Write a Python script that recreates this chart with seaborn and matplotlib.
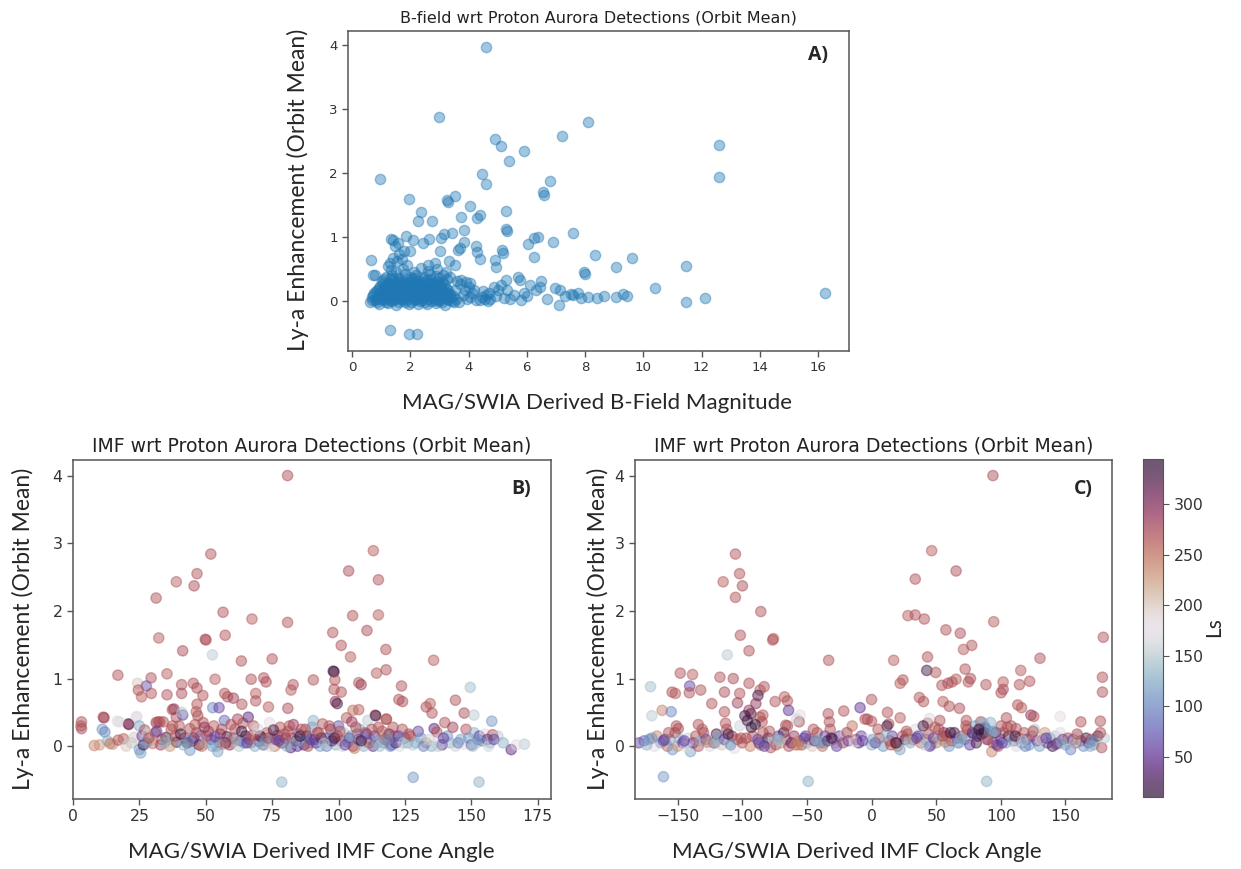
import numpy as np
import pandas as pd
import matplotlib
matplotlib.use("Agg")
import matplotlib.pyplot as plt
import seaborn as sns
from matplotlib.colors import Normalize
from matplotlib.cm import ScalarMappable

# ---------------- DATA ----------------
# Panel A: B-field magnitude vs Ly-a enhancement
a_out_x = [4.6, 3.0, 8.1, 7.2, 4.9, 5.1, 12.6, 5.9, 5.4, 12.6, 0.95, 4.45, 4.6, 6.8, 6.55, 6.6, 1.95, 3.25,
           3.3, 3.55, 4.05, 2.35, 5.3, 2.25, 2.75, 3.75, 4.3, 4.4, 5.3, 5.33, 3.85, 7.6, 6.25, 6.38, 6.05, 6.9,
           1.35, 1.85, 2.1, 2.65, 3.05, 3.15, 3.42, 3.85, 4.25, 3.72, 3.62, 5.15, 5.18, 4.3, 8.35, 6.25, 9.6,
           9.05, 11.45, 4.4, 4.95, 4.9, 7.95, 7.98, 10.4, 12.1, 11.45, 16.25, 1.3, 1.97, 2.22, 0.65]
a_out_y = [3.97, 2.87, 2.80, 2.58, 2.53, 2.43, 2.44, 2.35, 2.19, 1.94, 1.91, 1.98, 1.83, 1.87, 1.70, 1.66, 1.59, 1.58,
           1.55, 1.64, 1.48, 1.39, 1.41, 1.25, 1.25, 1.31, 1.30, 1.35, 1.12, 1.10, 1.11, 1.06, 0.99, 1.00, 0.89, 0.92,
           0.97, 1.01, 0.95, 0.97, 0.98, 1.05, 1.07, 0.93, 0.86, 0.83, 0.80, 0.80, 0.75, 0.77, 0.72, 0.69, 0.68,
           0.54, 0.55, 0.65, 0.54, 0.64, 0.46, 0.43, 0.21, 0.05, -0.01, 0.12, -0.45, -0.52, -0.52, 0.64]

a_band_x = [8.65, 9.05, 9.3, 9.45, 8.1, 7.75, 7.5, 7.1, 7.15, 6.95, 6.7, 6.45, 6.5, 6.1, 5.8, 5.9, 5.78, 5.7, 5.32,
            5.42, 5.28, 5.12, 5.02, 4.88, 4.7, 4.56, 4.38, 4.18, 4.06, 3.88, 3.75, 3.68, 4.06, 3.55, 7.6, 7.85, 6.3,
            6.0, 5.55, 5.2, 4.95, 4.75, 4.6, 4.45, 4.25, 4.1, 3.95, 3.8, 4.5, 4.65, 3.9, 3.7, 3.6, 4.0, 7.3, 8.4]
a_band_y = [0.08, 0.06, 0.11, 0.08, 0.06, 0.12, 0.11, -0.06, 0.17, 0.21, 0.03, 0.22, 0.31, 0.25, 0.02, 0.12, 0.33, 0.37,
            0.17, 0.03, 0.33, 0.25, 0.17, 0.22, 0.12, 0.04, 0.02, 0.17, 0.07, 0.17, 0.33, -0.01, 0.28, 0.17, 0.09, 0.05,
            0.18, 0.08, 0.10, 0.05, 0.08, 0.03, 0.10, 0.06, 0.02, 0.12, 0.04, 0.09, 0.15, 0.00, 0.30, 0.26, 0.32, 0.22,
            0.08, 0.05]

a_clu_x = [0.62, 0.78, 0.93, 1.08, 1.22, 1.37, 1.52, 1.66, 1.81, 1.96, 2.11, 2.26, 2.41, 2.57, 2.72, 2.87, 3.02, 3.18, 3.33, 3.49,
           0.70, 0.86, 1.01, 1.15, 1.30, 1.44, 1.59, 1.73, 1.88, 2.03, 2.18, 2.33, 2.48, 2.63, 2.79, 2.94, 3.10, 3.25, 3.41, 3.56,
           0.76, 0.97, 1.12, 1.26, 1.41, 1.55, 1.70, 1.85, 2.00, 2.15, 2.29, 2.44, 2.59, 2.75, 2.90, 3.05, 3.21, 3.37,
           0.88, 1.05, 1.19, 1.34, 1.49, 1.63, 1.78, 1.93, 2.07, 2.22, 2.37, 2.52, 2.67, 2.82, 2.97, 3.13, 3.29,
           0.95, 1.14, 1.31, 1.47, 1.62, 1.77, 1.92, 2.08, 2.24, 2.39, 2.55, 2.70, 2.86, 3.01, 3.17,
           1.02, 1.23, 1.40, 1.58, 1.74, 1.91, 2.06, 2.23, 2.40, 2.58, 2.74, 2.91, 3.08,
           0.72, 1.18, 1.38, 1.56, 1.80, 2.02, 2.20, 2.46, 2.68, 2.88, 3.12, 3.35,
           1.32, 1.52, 1.76, 2.12, 2.36, 2.62, 2.92, 3.22,
           0.80, 1.25, 1.40, 1.48, 1.58, 1.62, 1.78, 1.98, 1.55, 2.45, 2.62, 3.02, 3.32, 3.55, 1.30, 1.70, 2.85, 1.42, 1.88]
a_clu_y = [-0.02, 0.01, -0.05, 0.02, -0.03, 0.00, -0.06, 0.03, -0.02, -0.05, 0.01, -0.04, 0.02, -0.05, 0.00, -0.03, 0.02, -0.06, 0.01, -0.02,
           0.06, 0.04, 0.08, 0.05, 0.07, 0.03, 0.09, 0.05, 0.06, 0.08, 0.04, 0.07, 0.05, 0.09, 0.06, 0.04, 0.08, 0.05, 0.07, 0.04,
           0.12, 0.10, 0.14, 0.11, 0.13, 0.10, 0.12, 0.14, 0.11, 0.13, 0.10, 0.12, 0.14, 0.11, 0.13, 0.10, 0.12, 0.11,
           0.18, 0.16, 0.20, 0.17, 0.19, 0.16, 0.18, 0.20, 0.17, 0.19, 0.16, 0.18, 0.20, 0.17, 0.19, 0.16, 0.18,
           0.24, 0.22, 0.26, 0.23, 0.25, 0.27, 0.22, 0.24, 0.26, 0.23, 0.25, 0.27, 0.22, 0.24, 0.26,
           0.31, 0.29, 0.33, 0.30, 0.32, 0.29, 0.34, 0.31, 0.30, 0.33, 0.29, 0.32, 0.30,
           0.41, 0.38, 0.40, 0.36, 0.42, 0.38, 0.40, 0.37, 0.42, 0.39, 0.41, 0.37,
           0.48, 0.45, 0.50, 0.46, 0.52, 0.47, 0.50, 0.45,
           0.40, 0.55, 0.68, 0.86, 0.90, 0.74, 0.79, 0.78, 0.62, 0.90, 0.56, 0.79, 0.62, 0.56, 0.60, 0.66, 0.60, 0.95, 0.57]

a_clu2_x = [0.68, 0.85, 1.00, 1.16, 1.29, 1.45, 1.60, 1.74, 1.89, 2.04, 2.19, 2.34, 2.49, 2.65, 2.80, 2.95, 3.10, 3.26, 3.42,
            0.73, 0.90, 1.06, 1.21, 1.36, 1.51, 1.66, 1.80, 1.95, 2.10, 2.25, 2.40, 2.55, 2.70, 2.85, 3.00, 3.16, 3.31, 3.46,
            0.82, 0.99, 1.16, 1.30, 1.45, 1.60, 1.75, 1.90, 2.04, 2.19, 2.34, 2.49, 2.64, 2.79, 2.94, 3.09, 3.25,
            0.91, 1.09, 1.24, 1.40, 1.55, 1.70, 1.85, 2.00, 2.15, 2.30, 2.45, 2.60, 2.75, 2.90, 3.06, 3.22,
            1.05, 1.27, 1.44, 1.60, 1.77, 1.95, 2.12, 2.30, 2.48, 2.66, 2.84, 3.00,
            1.10, 1.35, 1.62, 1.88, 2.15, 2.42, 2.70, 2.98, 3.25]
a_clu2_y = [0.02, -0.01, 0.03, -0.02, 0.01, 0.04, -0.01, 0.02, 0.03, -0.02, 0.04, 0.00, -0.01, 0.03, 0.02, 0.00, -0.01, 0.03, 0.00,
            0.09, 0.08, 0.10, 0.08, 0.09, 0.10, 0.08, 0.09, 0.10, 0.08, 0.09, 0.10, 0.08, 0.09, 0.10, 0.08, 0.09, 0.10, 0.08,
            0.15, 0.14, 0.16, 0.15, 0.14, 0.16, 0.15, 0.14, 0.16, 0.15, 0.14, 0.16, 0.15, 0.14, 0.16, 0.15, 0.14,
            0.21, 0.20, 0.22, 0.21, 0.20, 0.22, 0.21, 0.20, 0.22, 0.21, 0.20, 0.22, 0.21, 0.20, 0.22, 0.21,
            0.28, 0.27, 0.29, 0.28, 0.27, 0.29, 0.28, 0.27, 0.29, 0.28, 0.27, 0.29,
            0.35, 0.36, 0.34, 0.35, 0.36, 0.34, 0.35, 0.36, 0.34]

# Panel B: IMF cone angle vs Ly-a enhancement, coloured by Ls
b_high_x = [80.8, 113.1, 51.9, 103.8, 46.7, 38.9, 115.0, 45.6, 31.3, 56.5, 67.4, 80.8, 105.3, 115.0, 97.8, 110.7,
            57.3, 32.3, 49.8, 50.1, 101.0, 104.5, 117.8, 41.3, 75.0, 63.4, 135.8, 52.5, 117.9, 114.3, 16.9, 35.4,
            98.0, 98.3, 29.4, 53.5, 67.1, 71.8, 72.7, 90.5, 98.6, 107.6, 108.5, 123.7, 82.9, 82.1, 45.3, 40.9, 46.7,
            48.9, 24.3, 27.6, 24.6, 25.8, 29.5, 35.4, 40.9, 57.1, 58.2, 68.8, 68.8, 60.4, 63.6, 73.6, 80.9, 98.3,
            101.0, 98.8, 99.5, 122.7, 124.1, 133.0, 134.5, 135.2, 144.0, 147.3, 149.6, 151.0, 157.7, 107.6, 105.4,
            113.8, 118.0, 52.6, 55.0, 46.7, 46.4, 37.4, 38.9, 41.3, 32.7, 31.3, 20.9, 16.7, 23.9, 11.4, 11.7, 3.2,
            3.2, 78.6, 128.1, 152.9]
b_high_y = [4.00, 2.89, 2.84, 2.59, 2.55, 2.43, 2.46, 2.37, 2.19, 1.98, 1.88, 1.83, 1.93, 1.94, 1.68, 1.71,
            1.64, 1.60, 1.58, 1.57, 1.49, 1.32, 1.43, 1.41, 1.29, 1.26, 1.27, 1.35, 1.13, 1.08, 1.05, 1.07,
            1.11, 1.10, 1.01, 0.99, 0.99, 1.01, 0.95, 0.98, 0.98, 0.94, 0.91, 0.89, 0.91, 0.83, 0.93, 0.91, 0.86,
            0.75, 0.93, 0.89, 0.83, 0.73, 0.78, 0.76, 0.78, 0.78, 0.73, 0.78, 0.67, 0.71, 0.62, 0.58, 0.56, 0.84,
            0.80, 0.66, 0.63, 0.69, 0.66, 0.58, 0.63, 0.49, 0.68, 0.49, 0.87, 0.46, 0.37, 0.54, 0.53,
            0.46, 0.40, 0.57, 0.57, 0.62, 0.51, 0.54, 0.43, 0.46, 0.36, 0.35, 0.33, 0.37, 0.43, 0.43, 0.42, 0.36,
            0.26, -0.53, -0.46, -0.53]
b_high_ls = [272, 262, 268, 272, 268, 262, 268, 272, 268, 268, 262, 268, 268, 262, 268, 272,
             268, 262, 272, 268, 268, 262, 268, 272, 268, 268, 262, 150, 268, 262, 268, 262,
             340, 330, 268, 262, 268, 268, 272, 268, 268, 262, 282, 268, 268, 262, 268, 268, 272,
             268, 200, 70, 268, 262, 268, 268, 272, 268, 268, 262, 268, 282, 268, 262, 272, 268,
             268, 292, 330, 268, 272, 268, 262, 268, 268, 272, 140, 150, 110, 262, 250,
             268, 268, 100, 60, 268, 262, 268, 268, 60, 268, 282, 330, 170, 180, 268, 282, 268,
             272, 130, 110, 130]

b_band_x = [3, 8, 10, 11, 12, 13, 14, 15, 17, 17.5, 19, 21, 22, 23, 24, 25, 25, 25.5, 26, 26.5, 27, 28, 29, 30,
            31, 32, 33, 34, 35, 36, 37, 38, 39, 40, 41, 42, 43, 44, 44, 45, 46, 47, 47.5, 48, 49, 50, 51, 52, 53,
            54, 54.5, 55, 56, 57, 58, 59, 60, 61, 62, 63, 64, 65, 66, 67, 68, 69, 70, 71, 72, 73, 74, 75, 76, 77,
            78, 79, 80, 81, 82, 83, 84, 85, 86, 87, 88, 89, 90, 90.5, 91, 92, 93, 94, 95, 96, 97, 98, 99, 100,
            101, 102, 103, 104, 105, 106, 107, 108, 109, 110, 111, 112, 113, 114, 115, 116, 117, 118, 119, 120,
            121, 122, 123, 124, 125, 126, 128, 130, 131, 133, 135, 136, 137, 138, 139, 140, 141, 142, 143, 144,
            146, 147, 148, 149, 150, 151, 152, 153, 154, 155, 156, 157, 158, 160, 165, 170,
            20, 27.5, 33.5, 36.5, 38.5, 41.5, 45.5, 48.5, 50.5, 52.5, 55.5, 57.5, 60.5, 62.5, 64.5, 66.5, 68.5,
            70.5, 72.5, 74.5, 76.5, 78.5, 80.5, 82.5, 84.5, 86.5, 88.5, 91.5, 93.5, 95.5, 97.5, 99.5, 101.5,
            103.5, 105.5, 107.5, 109.5, 111.5, 113.5, 115.5, 117.5, 119.5, 121.5, 123.5, 127, 129, 132, 134,
            137.5, 139.5, 145, 150.5, 152.5, 156.5, 158.5, 162, 167,
            28.5, 31.5, 34.5, 37.5, 40.5, 43.5, 46.5, 49.5, 53.5, 56.5, 59.5, 61.5, 63.5, 65.5, 67.5, 69.5, 71.5,
            73.5, 75.5, 77.5, 79.5, 81.5, 83.5, 85.5, 87.5, 89.5, 92.5, 94.5, 96.5, 98.5, 100.5, 102.5, 104.5,
            106.5, 108.5, 110.5, 112.5, 114.5, 116.5, 118.5, 120.5, 122.5, 124.5, 126.5]
b_band_y = [0.30, 0.01, 0.02, 0.25, 0.21, 0.08, 0.04, 0.03, 0.09, 0.36, 0.11, 0.32, 0.05, 0.13, 0.44, 0.30, -0.05, -0.10,
            0.15, 0.02, 0.24, 0.18, 0.09, 0.04, 0.20, 0.36, 0.02, 0.36, 0.13, 0.10, 0.25, 0.55, 0.06, 0.30, 0.50, 0.12,
            0.05, 0.26, -0.06, 0.08, 0.32, 0.45, 0.02, 0.16, 0.35, 0.04, 0.22, 0.10, 0.30, 0.00, -0.08, 0.06, 0.25,
            0.38, 0.14, 0.02, 0.05, 0.25, 0.40, 0.08, 0.34, 0.15, 0.43, 0.05, 0.30, 0.18, 0.07, 0.13, 0.02, 0.20,
            0.35, 0.10, 0.00, 0.16, 0.28, 0.05, 0.12, 0.22, -0.02, 0.32, 0.08, 0.18, 0.25, 0.02, 0.15, 0.05, 0.28,
            0.38, 0.10, 0.20, 0.00, 0.33, 0.12, 0.06, 0.25, 0.15, 0.02, 0.30, 0.08, 0.20, 0.42, 0.12, 0.36, -0.03,
            0.18, 0.25, 0.05, 0.20, 0.38, 0.10, 0.00, 0.45, 0.28, 0.13, 0.05, 0.40, 0.18, 0.02, 0.15, 0.08, 0.00,
            0.25, 0.12, 0.05, 0.02, 0.22, 0.12, 0.05, 0.00, 0.26, 0.21, 0.08, 0.02, 0.35, 0.15, 0.05, 0.28, 0.00,
            0.10, 0.03, 0.25, 0.12, 0.02, 0.20, 0.05, 0.15, 0.08, 0.18, 0.10, 0.05, 0.17, 0.15, -0.05, 0.03,
            0.00, 0.05, 0.10, 0.00, 0.15, 0.02, 0.12, 0.00, 0.15, 0.00, 0.18, 0.05, 0.12, 0.00, 0.05, 0.10, 0.00,
            0.15, 0.08, 0.00, 0.10, 0.05, 0.00, 0.12, 0.00, 0.08, 0.00, 0.05, 0.12, 0.00, 0.08, 0.15, 0.00,
            0.06, 0.00, 0.10, 0.00, 0.05, 0.15, 0.00, 0.10, 0.00, 0.05, 0.12, 0.15, 0.05, 0.00, 0.10,
            0.00, 0.12, 0.05, 0.00, 0.10, 0.00, 0.10, 0.05, 0.02,
            0.12, 0.22, 0.05, 0.30, 0.18, 0.08, 0.20, 0.28, 0.14, 0.03, 0.32, 0.10, 0.22, 0.05, 0.16, 0.26, 0.02,
            0.12, 0.24, 0.08, 0.18, 0.30, 0.05, 0.15, 0.25, 0.10, 0.20, 0.04, 0.30, 0.12, 0.22, 0.02, 0.15,
            0.28, 0.08, 0.18, 0.25, 0.05, 0.22, 0.10, 0.28, 0.15, 0.05, 0.18]
b_band_ls = [265, 240, 230, 110, 100, 130, 250, 230, 265, 170, 262, 288, 150, 200, 180, 120, 110, 120, 60, 335, 265,
             160, 200, 250, 268, 265, 280, 268, 330, 130, 268, 288, 340, 265, 150, 268, 340, 268, 110, 280, 265, 268,
             330, 80, 268, 150, 280, 60, 265, 140, 120, 100, 268, 80, 335, 288, 230, 268, 280, 60, 265, 330, 40, 240,
             268, 170, 60, 265, 220, 268, 180, 130, 240, 280, 268, 110, 40, 268, 40, 288, 335, 60, 265, 40, 330, 100,
             110, 130, 50, 268, 120, 265, 60, 180, 288, 110, 130, 70, 268, 150, 265, 40, 288, 240, 268, 130, 180,
             268, 150, 120, 50, 335, 268, 200, 110, 265, 330, 60, 265, 130, 170, 268, 60, 120, 150, 60, 110, 230,
             130, 40, 268, 170, 50, 268, 110, 130, 280, 160, 120, 170, 268, 110, 80, 130, 150, 60, 100, 180, 40,
             130, 268, 150, 40, 150,
             200, 110, 268, 230, 265, 130, 50, 250, 268, 120, 288, 40, 265, 150, 100, 268, 130, 335, 110, 170, 60,
             265, 130, 268, 50, 120, 265, 60, 330, 100, 40, 268, 160, 110, 268, 60, 130, 265, 60, 140, 268, 110,
             40, 150, 268, 130, 100, 160, 150, 60, 100, 140, 110, 160, 60, 130, 180,
             268, 60, 130, 265, 330, 110, 268, 288, 60, 240, 268, 130, 335, 60, 268, 170, 110,
             268, 330, 60, 265, 268, 130, 340, 268, 60, 265, 150, 268, 330, 268, 60, 120,
             268, 335, 60, 268, 130, 265, 110, 268, 60, 150, 268]

# Panel C: IMF clock angle vs Ly-a enhancement, coloured by Ls
c_high_x = [93.9, 46.5, -105.3, 65.4, -102.1, -114.8, 33.8, -99.9, -105.3, -85.7, 28.1, 33.8, 40.8, 94.5, 57.5,
            68.6, -101.5, -75.9, -76.5, 179.3, 77.5, 71.1, -94.8, -111.6, -33.2, 17.1, 130.3, 43.3, 42.7, 72.4,
            115.4, 178.6, -148, -138.5, -117.3, -107, 49.6, 62.3, 65.4, 74.9, 76.5, 122.3, 114.4, 101.8, 100.2,
            101.8, 88.5, 24.3, 22.1, 54.4, 59.1, 178.6, -171, -140.7, -154.3, -151.8, -141, -132.2, -113.8, -102,
            -103.7, -94.8, -86.3, -83.1, -87.9, -89.5, -74.6, -67.3, -65.1, -64.2, -123.6, -113.8, -93.3, -94.8,
            -86.3, -84.1, 37, 40.2, 55.3, 60.1, 68, 0, -8.9, -21.5, 12.3, 22.1, -33.5, -32.6, 113.1, 116, 123.3,
            125.5, 177, 161.9, 146, -170, -162, -155, -151, -149.5, -134, -113, -84.7, -66.4, -55.3, -56, -3.2,
            0, 13.3, 43.3, 44.9, 52.8, 73.3, 84.4, 87.5, 100.2, 104.3, 111.9, -161, -49, 89]
c_high_y = [4.00, 2.89, 2.84, 2.59, 2.55, 2.43, 2.47, 2.37, 2.20, 1.99, 1.93, 1.94, 1.88, 1.84, 1.72,
            1.67, 1.64, 1.59, 1.57, 1.61, 1.49, 1.43, 1.41, 1.35, 1.27, 1.27, 1.30, 1.32, 1.12, 1.14,
            1.12, 1.02, 1.08, 1.06, 1.02, 1.00, 1.09, 0.95, 0.99, 0.95, 1.00, 0.96, 0.91, 0.95, 0.79,
            0.84, 0.91, 0.98, 0.93, 0.90, 0.93, 0.80, 0.88, 0.89, 0.80, 0.78, 0.79, 0.83, 0.80, 0.78,
            0.64, 0.93, 0.83, 0.88, 0.75, 0.63, 0.66, 0.73, 0.67, 0.53, 0.63, 0.51, 0.48, 0.53,
            0.43, 0.46, 0.72, 0.66, 0.66, 0.59, 0.56, 0.69, 0.57, 0.52, 0.50, 0.42, 0.48, 0.36, 0.61, 0.57, 0.46,
            0.44, 0.37, 0.36, 0.44, 0.45, 0.53, 0.51, 0.30, 0.26, 0.32, 0.34, 0.36, 0.31, 0.46, 0.36, 0.40,
            0.37, 0.33, 0.34, 0.41, 0.38, 0.38, 0.36, 0.26, 0.30, 0.42, 0.26, -0.45, -0.52, -0.52]
c_high_ls = [272, 262, 268, 272, 268, 262, 268, 272, 268, 268, 262, 268, 268, 262, 268,
             272, 268, 262, 268, 268, 268, 262, 268, 150, 268, 262, 268, 268, 340, 268,
             262, 268, 268, 262, 268, 272, 268, 268, 262, 268, 272, 268, 268, 262, 268,
             272, 268, 268, 262, 268, 272, 268, 140, 60, 268, 262, 268, 268, 272, 268,
             282, 268, 262, 268, 330, 292, 268, 262, 268, 50, 268, 268, 330, 292,
             268, 262, 268, 268, 262, 268, 272, 268, 50, 268, 268, 262, 268, 268, 268, 262, 292,
             268, 268, 268, 180, 150, 240, 100, 268, 272, 268, 268, 268, 268, 180, 272, 268,
             268, 268, 272, 170, 268, 268, 268, 345, 268, 268, 268, 110, 130, 130]

c_band_x = [-180, -176, -172, -168, -166, -163, -160, -158, -156, -154, -152, -150, -148, -146, -142, -140, -138,
            -136, -134, -132, -130, -128, -125, -122, -120, -118, -116, -114, -112, -110, -108, -106, -104, -102,
            -100, -98, -96, -94, -92, -90, -88, -86, -84, -82, -80, -78, -76, -74, -72, -70, -68, -66, -64, -62,
            -60, -58, -56, -54, -52, -50, -48, -46, -44, -42, -40, -38, -36, -34, -32, -30, -28, -25, -22, -20,
            -18, -15, -12, -10, -8, -5, -3, 0, 3, 6, 9, 12, 14, 16, 18, 20, 22, 24, 26, 28, 30, 32, 34, 36, 38, 40,
            42, 44, 46, 48, 50, 52, 54, 56, 58, 60, 62, 64, 66, 68, 70, 72, 74, 76, 78, 80, 82, 84, 86, 87, 88, 90,
            92, 93, 94, 96, 98, 100, 102, 104, 106, 108, 110, 112, 114, 116, 118, 120, 122, 124, 126, 128, 130,
            132, 134, 136, 138, 140, 142, 144, 146, 148, 150, 152, 154, 156, 158, 160, 162, 164, 166, 168, 170,
            172, 175, 178, 180,
            -174, -161, -144, -127, -109, -97, -83, -71, -57, -43, -27, -13, 1, 15, 29, 45, 57, 69, 81, 85, 91, 97,
            107, 119, 131, 143, 157, 169,
            -170, -157, -145, -131, -121, -111, -101, -93, -87, -79, -73, -65, -59, -51, -45, -37, -31, -19, -7, 5,
            11, 19, 27, 35, 41, 49, 55, 61, 67, 73, 79, 83, 89, 95, 101, 105, 111, 117, 125, 135, 147, 159, 171, 177]
c_band_y = [0.05, 0.08, 0.10, 0.00, 0.15, 0.05, 0.10, 0.00, 0.10, -0.05, 0.20, 0.00, 0.10, 0.05, 0.12, -0.08, 0.05,
            0.15, 0.00, 0.08, 0.20, 0.10, 0.00, 0.05, 0.18, 0.12, 0.02, 0.10, 0.25, 0.05, 0.15, -0.03, 0.10, 0.30,
            0.05, 0.45, 0.38, 0.00, 0.15, 0.32, 0.10, 0.02, 0.20, 0.05, 0.12, -0.02, 0.10, 0.02, 0.15, 0.05, 0.20,
            0.10, 0.00, 0.05, 0.15, 0.40, 0.08, 0.02, 0.12, 0.05, 0.10, 0.00, 0.08, 0.20, 0.05, 0.00, 0.15, 0.08,
            0.25, 0.10, 0.05, 0.15, 0.05, 0.20, 0.08, 0.30, 0.10, 0.05, 0.15, 0.40, 0.10, 0.02, 0.05, 0.12, 0.00,
            0.30, 0.08, 0.15, 0.05, 0.00, -0.05, 0.15, 0.10, 0.18, 0.05, 0.10, 0.25, 0.15, 0.05, 0.30, 0.10, 0.18,
            0.02, 0.12, 0.05, 0.25, 0.10, 0.20, 0.15, 0.00, 0.08, 0.20, 0.12, 0.05, 0.15, 0.10, 0.25, 0.02, 0.20,
            0.30, 0.15, 0.25, 0.35, 0.20, 0.28, 0.10, 0.35, -0.08, 0.05, 0.20, 0.00, 0.10, 0.20, 0.05, 0.15, 0.30,
            0.08, 0.00, 0.12, 0.05, 0.20, 0.10, 0.02, 0.15, 0.25, 0.08, 0.00, 0.10, 0.20, 0.05, 0.12, 0.00, 0.15,
            0.05, 0.20, 0.10, 0.02, 0.12, -0.05, 0.10, 0.05, 0.15, 0.08, 0.00, 0.12, 0.05, 0.10, 0.02, 0.15, -0.02,
            0.12,
            0.02, 0.08, 0.00, 0.06, 0.02, 0.12, 0.00, 0.08, 0.02, 0.10, 0.00, 0.06, 0.10, 0.02, 0.08, 0.00, 0.06,
            0.12, 0.05, 0.18, 0.22, 0.02, 0.08, 0.00, 0.10, 0.03, 0.06, 0.00,
            0.12, 0.20, 0.08, 0.25, 0.05, 0.18, 0.12, 0.28, 0.05, 0.22, 0.10, 0.30, 0.02, 0.15, 0.25, 0.05, 0.12,
            0.20, 0.08, 0.25, 0.15, 0.05, 0.22, 0.12, 0.02, 0.28, 0.15, 0.20, 0.05, 0.30, 0.18, 0.25, 0.10, 0.22,
            0.05, 0.28, 0.15, 0.08, 0.22, 0.12, 0.05, 0.18, 0.08, 0.20]
c_band_ls = [60, 80, 100, 180, 240, 130, 60, 250, 120, 110, 268, 230, 130, 60, 160, 120, 50, 268, 265, 130, 268,
             60, 170, 268, 330, 120, 200, 60, 268, 150, 288, 180, 265, 160, 268, 330, 335, 240, 268, 340, 60, 250,
             268, 120, 330, 265, 180, 268, 60, 230, 330, 265, 268, 40, 288, 160, 240, 268, 60, 120, 268, 200, 50,
             268, 110, 250, 60, 330, 268, 40, 200, 60, 268, 170, 60, 250, 268, 40, 60, 268, 180, 130, 60, 268, 110,
             335, 265, 60, 268, 240, 120, 268, 330, 265, 130, 268, 170, 60, 250, 335, 120, 268, 110, 60, 240, 268,
             130, 288, 265, 110, 268, 330, 60, 150, 268, 120, 268, 60, 330, 110, 340, 268, 130, 340, 100, 60, 130,
             240, 268, 330, 265, 60, 268, 120, 330, 268, 60, 170, 268, 130, 265, 60, 110, 268, 150, 60, 120, 268,
             230, 60, 110, 330, 150, 268, 180, 60, 130, 268, 100, 60, 265, 160, 268, 110, 330, 60, 268, 130, 330,
             268, 150,
             130, 60, 170, 240, 110, 268, 60, 150, 240, 130, 60, 180, 120, 268, 150, 60, 240, 130, 330, 340, 120,
             60, 150, 100, 170, 60, 150, 130,
             110, 268, 60, 265, 130, 330, 268, 340, 60, 268, 130, 265, 240, 60, 268, 110, 330, 268, 60, 268,
             130, 335, 268, 60, 150, 265, 268, 330, 110, 268, 60, 340, 268, 120, 60, 268, 330, 150, 268, 60,
             130, 268, 110, 268]

LS_MIN, LS_MAX = 10, 345
cb_ticks = [50, 100, 150, 200, 250, 300]

# ---------------- FIGURE ----------------
sns.set_style("ticks")
plt.rcParams["font.family"] = ["DejaVu Sans"]

W, H = 1241, 869
fig = plt.figure(figsize=(W / 100, H / 100), dpi=100)
fig.patch.set_facecolor("white")


def rect(l, t, r, b):
    return [l / W, 1 - b / H, (r - l) / W, (b - t) / H]


def pt(x, y):
    return (x / W, 1 - y / H)


LABEL_FONT = ["Lato", "DejaVu Sans"]
BOLD_FONT = ["Open Sans", "DejaVu Sans"]
spine_c = "#555555"

df_a = pd.DataFrame({"x": a_out_x + a_band_x + a_clu_x + a_clu2_x,
                     "y": a_out_y + a_band_y + a_clu_y + a_clu2_y})
df_b = pd.DataFrame({"x": b_high_x + b_band_x, "y": b_high_y + b_band_y, "ls": b_high_ls + b_band_ls})
df_c = pd.DataFrame({"x": c_high_x + c_band_x, "y": c_high_y + c_band_y, "ls": c_high_ls + c_band_ls})

axA = fig.add_axes(rect(348, 31, 849, 351))
axB = fig.add_axes(rect(73, 460, 551, 799))
axC = fig.add_axes(rect(635, 460, 1112, 799))
cax = fig.add_axes(rect(1143, 459, 1163, 797))

sns.scatterplot(data=df_a, x="x", y="y", ax=axA, color="#1f77b4", alpha=0.42, s=55,
                edgecolor="face", linewidth=1.0, legend=False)
for ax, df in ((axB, df_b), (axC, df_c)):
    sns.scatterplot(data=df, x="x", y="y", hue="ls", palette="twilight_shifted",
                    hue_norm=(LS_MIN, LS_MAX), ax=ax, alpha=0.45, s=55,
                    edgecolor="face", linewidth=1.0, legend=False)

axA.set_xlim(-0.14, 17.06)
axA.set_ylim(-0.78, 4.22)
axA.set_xticks([0, 2, 4, 6, 8, 10, 12, 14, 16])
axA.set_yticks([0, 1, 2, 3, 4])
axB.set_xlim(0, 180)
axB.set_xticks([0, 25, 50, 75, 100, 125, 150, 175])
axC.set_xlim(-183, 186)
axC.set_xticks([-150, -100, -50, 0, 50, 100, 150])
for ax in (axB, axC):
    ax.set_ylim(-0.78, 4.23)
    ax.set_yticks([0, 1, 2, 3, 4])

for ax, fs in ((axA, 9.6), (axB, 11.3), (axC, 11.3)):
    ax.set_xlabel("")
    ax.set_ylabel("")
    for sp in ax.spines.values():
        sp.set_visible(True)
        sp.set_color(spine_c)
        sp.set_linewidth(1.1)
    ax.tick_params(labelsize=fs, colors="#333333", length=4, width=1.0, color=spine_c)
    ax.set_facecolor("white")

axA.set_title("B-field wrt Proton Aurora Detections (Orbit Mean)", fontsize=11.5, color="#222222", pad=6)
axB.set_title("IMF wrt Proton Aurora Detections (Orbit Mean)", fontsize=13.6, color="#222222", pad=6)
axC.set_title("IMF wrt Proton Aurora Detections (Orbit Mean)", fontsize=13.6, color="#222222", pad=6)

# colorbar
sm = ScalarMappable(norm=Normalize(LS_MIN, LS_MAX), cmap="twilight_shifted")
cb = fig.colorbar(sm, cax=cax)
cb.solids.set_alpha(0.7)
cb.set_ticks(cb_ticks)
cb.ax.tick_params(labelsize=11.3, colors="#333333", length=4, color=spine_c)
cb.outline.set_edgecolor(spine_c)

# Text labels (Calibri-like)
ylab = "Ly-a Enhancement (Orbit Mean)"
fig.text(*pt(298, 190), ylab, rotation=90, ha="center", va="center", fontsize=16.5, family=LABEL_FONT)
fig.text(*pt(23, 629), ylab, rotation=90, ha="center", va="center", fontsize=16.5, family=LABEL_FONT)
fig.text(*pt(598, 629), ylab, rotation=90, ha="center", va="center", fontsize=16.5, family=LABEL_FONT)
fig.text(*pt(597, 403), "MAG/SWIA Derived B-Field Magnitude", ha="center", va="center", fontsize=16, family=LABEL_FONT)
fig.text(*pt(311, 852), "MAG/SWIA Derived IMF Cone Angle", ha="center", va="center", fontsize=16, family=LABEL_FONT)
fig.text(*pt(857, 852), "MAG/SWIA Derived IMF Clock Angle", ha="center", va="center", fontsize=16, family=LABEL_FONT)
fig.text(*pt(1214, 627), "Ls", rotation=90, ha="center", va="center", fontsize=15, family=LABEL_FONT)

fig.text(*pt(818, 55), "A)", ha="center", va="center", fontsize=14, fontweight="bold", family=BOLD_FONT)
fig.text(*pt(521, 489), "B)", ha="center", va="center", fontsize=14, fontweight="bold", family=BOLD_FONT)
fig.text(*pt(1083, 489), "C)", ha="center", va="center", fontsize=14, fontweight="bold", family=BOLD_FONT)

fig.savefig("out.png", dpi=100, facecolor="white")
